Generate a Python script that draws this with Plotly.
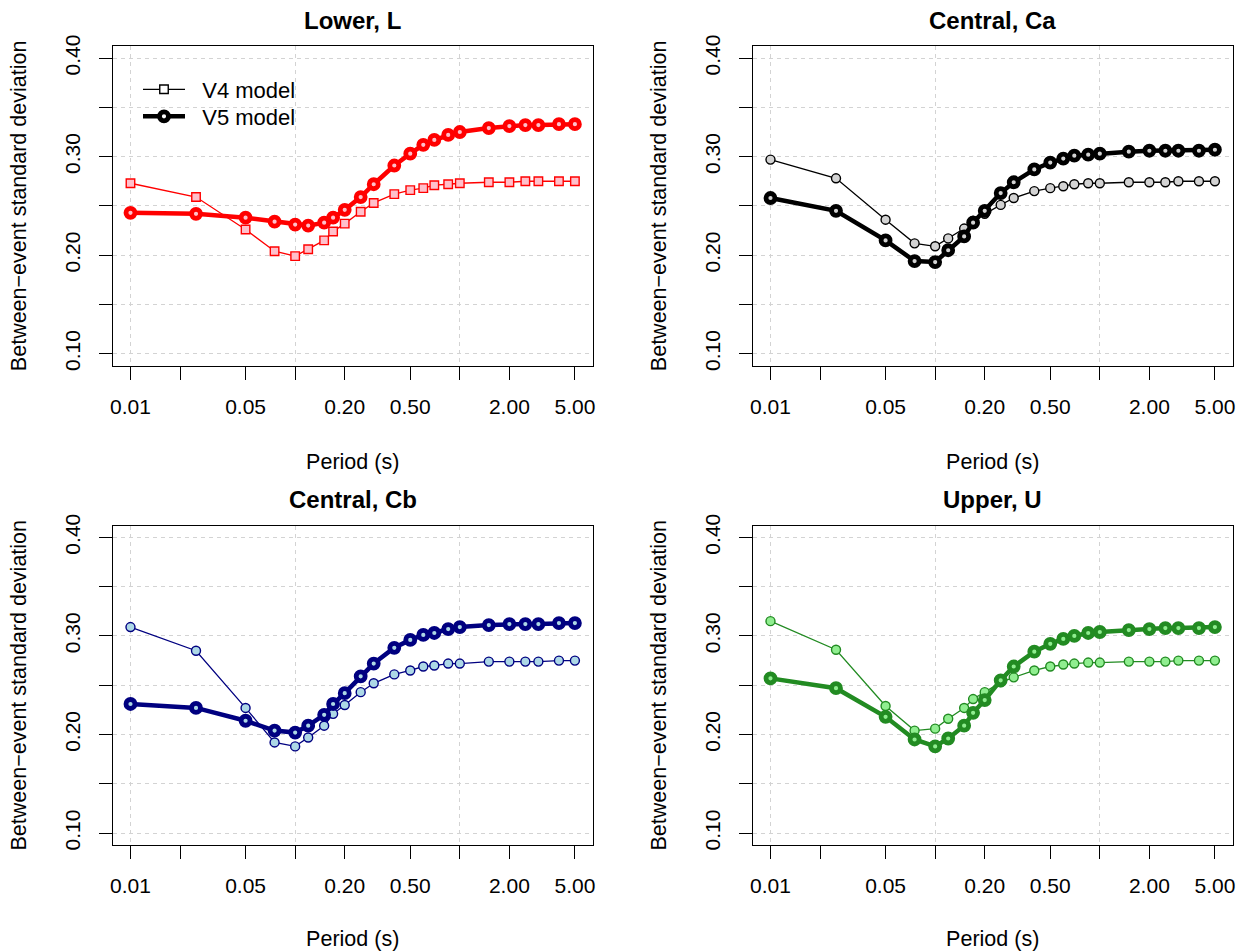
import plotly.graph_objects as go

# ---------------- data ----------------
periods = [0.01, 0.025, 0.05, 0.075, 0.1, 0.12, 0.15, 0.17, 0.2, 0.25, 0.3, 0.4,
           0.5, 0.6, 0.7, 0.85, 1.0, 1.5, 2.0, 2.5, 3.0, 4.0, 5.0]

L_v4 = [0.273, 0.259, 0.226, 0.204, 0.199, 0.206, 0.215, 0.224, 0.232, 0.244, 0.253, 0.262,
        0.266, 0.268, 0.271, 0.272, 0.273, 0.274, 0.274, 0.275, 0.275, 0.275, 0.275]
L_v5 = [0.243, 0.242, 0.238, 0.234, 0.231, 0.230, 0.233, 0.238, 0.246, 0.259, 0.272, 0.291,
        0.303, 0.312, 0.317, 0.322, 0.325, 0.329, 0.331, 0.332, 0.332, 0.333, 0.333]

Ca_v4 = [0.297, 0.278, 0.236, 0.212, 0.209, 0.217, 0.227, 0.235, 0.242, 0.251, 0.258, 0.265,
         0.268, 0.270, 0.272, 0.273, 0.273, 0.274, 0.274, 0.274, 0.275, 0.275, 0.275]
Ca_v5 = [0.258, 0.245, 0.215, 0.194, 0.193, 0.205, 0.219, 0.233, 0.245, 0.263, 0.274, 0.287,
         0.294, 0.298, 0.301, 0.302, 0.303, 0.305, 0.306, 0.306, 0.306, 0.306, 0.307]

Cb_v4 = [0.309, 0.285, 0.227, 0.192, 0.188, 0.197, 0.209, 0.221, 0.230, 0.243, 0.252, 0.261,
         0.265, 0.269, 0.270, 0.272, 0.272, 0.274, 0.274, 0.274, 0.274, 0.275, 0.275]
Cb_v5 = [0.231, 0.227, 0.214, 0.204, 0.202, 0.209, 0.220, 0.231, 0.242, 0.259, 0.272, 0.288,
         0.296, 0.301, 0.303, 0.307, 0.309, 0.311, 0.312, 0.312, 0.312, 0.313, 0.313]

U_v4 = [0.315, 0.286, 0.229, 0.204, 0.206, 0.216, 0.227, 0.236, 0.243, 0.253, 0.258, 0.265,
        0.269, 0.271, 0.272, 0.273, 0.273, 0.274, 0.274, 0.274, 0.275, 0.275, 0.275]
U_v5 = [0.257, 0.247, 0.218, 0.195, 0.188, 0.196, 0.209, 0.222, 0.235, 0.255, 0.269, 0.284,
        0.292, 0.297, 0.300, 0.303, 0.304, 0.306, 0.307, 0.308, 0.308, 0.308, 0.309]

panel_titles = ["Lower, L", "Central, Ca", "Central, Cb", "Upper, U"]
series_v4 = [L_v4, Ca_v4, Cb_v4, U_v4]
series_v5 = [L_v5, Ca_v5, Cb_v5, U_v5]
dark_colors = ["#FF0000", "#000000", "#000080", "#228B22"]
light_colors = ["#FFC0CB", "#D3D3D3", "#ADD8E6", "#90EE90"]
v4_symbols = ["square", "circle", "circle", "circle"]

x_tick_vals = [0.01, 0.02, 0.05, 0.1, 0.2, 0.5, 1, 2, 5]
x_tick_text = ["0.01", "", "0.05", "", "0.20", "0.50", "", "2.00", "5.00"]
x_grid_vals = [0.01, 0.1, 1]
y_tick_vals = [0.10, 0.15, 0.20, 0.25, 0.30, 0.35, 0.40]
y_tick_text = ["0.10", "", "0.20", "", "0.30", "", "0.40"]
legend_names = ["V4 model", "V5 model"]

# ---------------- layout geometry ----------------
W, H = 1249, 951
FONT = "Liberation Sans, Arial, Helvetica, sans-serif"
x_doms = [[112.7 / W, 592.7 / W], [752.7 / W, 1232.7 / W]]
y_doms = [[1 - 365.5 / H, 1 - 46.3 / H], [1 - 845.0 / H, 1 - 525.5 / H]]
GRID = "#D3D3D3"

fig = go.Figure()

for i in range(4):
    ax = "" if i == 0 else str(i + 1)
    xa, ya = "x" + ax, "y" + ax
    fig.add_trace(go.Scatter(
        x=periods, y=series_v4[i], mode="lines+markers", xaxis=xa, yaxis=ya,
        showlegend=False,
        line=dict(color=dark_colors[i], width=1.3),
        marker=dict(symbol=v4_symbols[i], size=9 if v4_symbols[i] == "circle" else 8.5,
                    color=light_colors[i], line=dict(color=dark_colors[i], width=1.4))))
    fig.add_trace(go.Scatter(
        x=periods, y=series_v5[i], mode="lines+markers", xaxis=xa, yaxis=ya,
        showlegend=False,
        line=dict(color=dark_colors[i], width=4.5),
        marker=dict(symbol="circle", size=9, color=light_colors[i],
                    line=dict(color=dark_colors[i], width=4.8))))

# legend entries (black, as in the reference); one legend box per entry for exact spacing
NB = "\u00a0\u00a0"
fig.add_trace(go.Scatter(
    x=[None], y=[None], mode="lines+markers", name=NB + legend_names[0], xaxis="x", yaxis="y",
    legend="legend",
    line=dict(color="black", width=1.3),
    marker=dict(symbol="square", size=8.5, color="white", line=dict(color="black", width=1.4))))
fig.add_trace(go.Scatter(
    x=[None], y=[None], mode="lines+markers", name=NB + legend_names[1], xaxis="x", yaxis="y",
    legend="legend2",
    line=dict(color="black", width=4.5),
    marker=dict(symbol="circle", size=9, color="white", line=dict(color="black", width=4.8))))

legend_common = dict(xanchor="left", yanchor="top", bgcolor="rgba(0,0,0,0)",
                     borderwidth=0, font=dict(size=22), itemwidth=42)

layout = dict(
    width=W, height=H, margin=dict(l=0, r=0, t=0, b=0, autoexpand=False),
    paper_bgcolor="white", plot_bgcolor="white",
    font=dict(family=FONT, color="black", size=21),
    showlegend=True,
    legend=dict(x=138 / W, y=1 - 68.5 / H, **legend_common),
    legend2=dict(x=138 / W, y=1 - 95.5 / H, **legend_common),
    annotations=[],
)

for i in range(4):
    r, c = divmod(i, 2)
    ax = "" if i == 0 else str(i + 1)
    layout["xaxis" + ax] = dict(
        type="log", range=[-2.108, 0.807], domain=x_doms[c], anchor="y" + ax,
        automargin=False,
        tickmode="array", tickvals=x_tick_vals, ticktext=x_tick_text,
        ticks="outside", ticklen=13, tickwidth=1.2, tickcolor="black",
        showline=True, linecolor="black", linewidth=1.3, mirror=True,
        showgrid=False, zeroline=False,
        minor=dict(tickmode="array", tickvals=x_grid_vals, showgrid=True,
                   gridcolor=GRID, griddash="4px,4px", gridwidth=1, ticks=""),
        tickfont=dict(size=21), ticklabelstandoff=9,
        title=dict(text="Period (s)", font=dict(size=21.5), standoff=37),
    )
    layout["yaxis" + ax] = dict(
        range=[0.088, 0.412], domain=y_doms[r], anchor="x" + ax,
        automargin=False,
        tickmode="array", tickvals=y_tick_vals, ticktext=y_tick_text, tickangle=-90,
        ticks="outside", ticklen=13, tickwidth=1.2, tickcolor="black",
        showline=True, linecolor="black", linewidth=1.3, mirror=True,
        showgrid=True, gridcolor=GRID, griddash="4px,4px", gridwidth=1, zeroline=False,
        tickfont=dict(size=21), ticklabelstandoff=10,
        title=dict(text="Between\u2212event standard deviation", font=dict(size=21.5), standoff=28),
    )
    layout["annotations"].append(dict(
        text=panel_titles[i], x=sum(x_doms[c]) / 2, y=y_doms[r][1] + 26 / H,
        xref="paper", yref="paper", xanchor="center", yanchor="middle", showarrow=False,
        font=dict(size=24, family=FONT, weight="bold", color="black")))

fig.update_layout(**layout)
fig.write_html("out.html")
